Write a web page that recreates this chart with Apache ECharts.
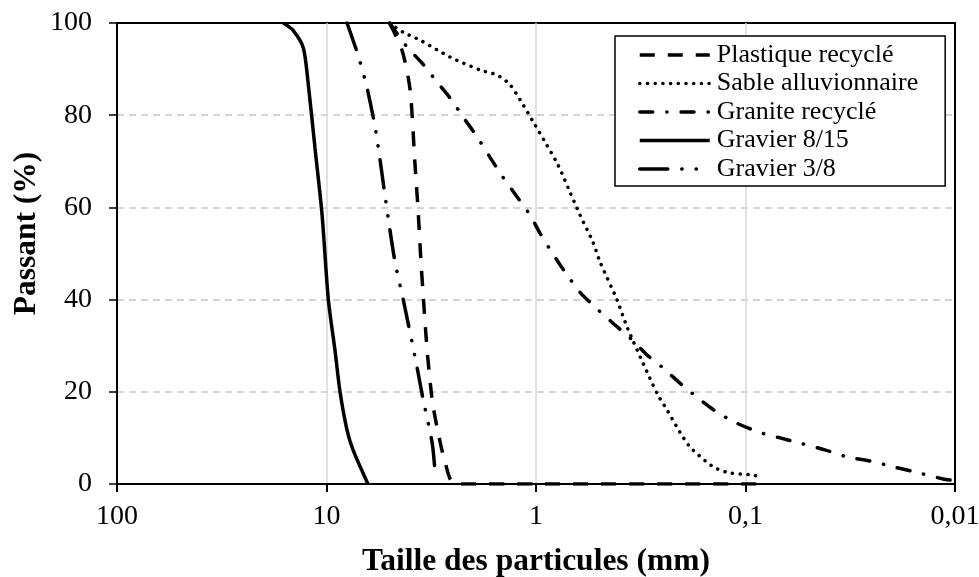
<!DOCTYPE html>
<html>
<head>
<meta charset="utf-8">
<script src="https://cdn.jsdelivr.net/npm/echarts@6/dist/echarts.min.js"></script>
<style>
html,body{margin:0;padding:0;background:#fff;}
#chart{width:979px;height:577px;}
</style>
</head>
<body>
<div id="chart"></div>
<script>
// ---- data (particle size in mm, percent passing) ----
const seriesNames = ['Plastique recyclé', 'Sable alluvionnaire', 'Granite recyclé', 'Gravier 8/15', 'Gravier 3/8'];

const plastiqueSize = [5, 4.36, 3.99, 3.78, 3.66, 3.54, 3.46, 3.31, 3.13, 2.97, 2.72, 2.44, 1, 0.088];
const plastiquePass = [100, 94.1, 85.5, 69.2, 59.9, 48.2, 41.4, 29.1, 18.2, 12.4, 4.8, 0, 0, 0];

const sableSize = [5, 4.31, 3.58, 2.57, 1.85, 1.53, 1.33, 1.15, 1.03, 0.9, 0.785, 0.688, 0.617, 0.535, 0.495, 0.41, 0.368, 0.295, 0.262, 0.237, 0.206, 0.184, 0.161, 0.14, 0.119, 0.095, 0.087];
const sablePass = [100, 98, 96.3, 92.6, 89.8, 88.7, 86.6, 82.2, 78.5, 74, 69.2, 63.3, 58.4, 52.5, 48.2, 39.9, 34.1, 24.3, 19.3, 16.1, 11.3, 8, 5.6, 3.5, 2.4, 2, 1.7];

const graniteSize = [5, 4.13, 3.5, 2.97, 2.57, 2.21, 1.91, 1.66, 1.44, 1.25, 1.07, 0.957, 0.83, 0.727, 0.617, 0.523, 0.434, 0.356, 0.295, 0.248, 0.201, 0.169, 0.137, 0.11, 0.087, 0.0684, 0.0532, 0.0418, 0.0328, 0.0255, 0.0204, 0.0155, 0.0114, 0.01];
const granitePass = [100, 94.8, 91.3, 87.2, 83.7, 79.4, 75.3, 70.9, 66.6, 62.7, 58.4, 54.4, 49.9, 46, 41.6, 38.4, 35.1, 31.7, 28, 25.2, 21.5, 18.7, 15.6, 13.2, 11.3, 10, 8.7, 7.4, 5.9, 5, 3.9, 2.6, 1.1, 0.7];

const gravier815Size = [16.1, 14.5, 12.9, 12.25, 11.35, 10.5, 9.8, 9.11, 8.62, 7.98, 7.47, 6.34];
const gravier815Pass = [100, 98.5, 94.6, 87.2, 72.9, 58.4, 40, 29, 20, 11.7, 7.4, 0];

const gravier38Size = [7.98, 7.07, 6.41, 5.81, 5.14, 4.71, 4.27, 3.70, 3.46, 3.13, 3.05];
const gravier38Pass = [100, 93, 86, 76.4, 59.4, 48.2, 39.3, 25.4, 18.4, 8.9, 4];

const yTicks = [0, 20, 40, 60, 80, 100];
const xTicks = [100, 10, 1, 0.1, 0.01];

function pairs(xs, ys) { return xs.map((x, i) => [x, ys[i]]); }

const FONT = '"Liberation Serif", "Times New Roman", serif';

const styles = [
  { type: [15, 13], cap: 'butt' },
  { type: [0.1, 7.6], cap: 'round' },
  { type: [13, 14, 0.3, 14], cap: 'round' },
  { type: 'solid', cap: 'butt' },
  { type: [28, 14, 0.3, 14, 0.3, 14], cap: 'round' }
];
const dataSets = [
  pairs(plastiqueSize, plastiquePass),
  pairs(sableSize, sablePass),
  pairs(graniteSize, granitePass),
  pairs(gravier815Size, gravier815Pass),
  pairs(gravier38Size, gravier38Pass)
];

const chart = echarts.init(document.getElementById('chart'), null, { renderer: 'canvas' });
chart.setOption({
  animation: false,
  backgroundColor: '#fff',
  textStyle: { fontFamily: FONT },
  grid: { left: 117, right: 24, top: 23, bottom: 93, containLabel: false, outerBoundsMode: 'none',
    show: true, borderColor: '#000', borderWidth: 2, backgroundColor: 'transparent' },
  legend: {
    orient: 'vertical',
    left: 615, top: 36,
    padding: [6, 27, 4, 23],
    itemGap: 2.5,
    itemWidth: 70, itemHeight: 14,
    borderColor: '#000', borderWidth: 1.5, backgroundColor: '#fff',
    itemStyle: { color: 'transparent', borderColor: 'transparent', borderWidth: 0, opacity: 0 },
    textStyle: { fontFamily: FONT, fontSize: 26, color: '#000', lineHeight: 26, padding: [0, 0, 0, 2] },
    data: seriesNames.map((n, i) => ({ name: n, lineStyle: { type: styles[i].type, width: 3.5, color: '#000', cap: styles[i].cap } }))
  },
  xAxis: {
    type: 'log', logBase: 10, min: 0.01, max: 100, inverse: true,
    name: 'Taille des particules (mm)', nameLocation: 'middle', nameGap: 62, nameMoveOverlap: false,
    nameTextStyle: { fontFamily: FONT, fontSize: 31.5, fontWeight: 'bold', color: '#000' },
    axisLine: { lineStyle: { color: '#000', width: 2 } },
    axisTick: { show: true, length: 8, lineStyle: { color: '#000', width: 2 } },
    minorTick: { show: false },
    axisLabel: { fontFamily: FONT, fontSize: 28, color: '#000', margin: 19,
      formatter: v => String(+(+v).toPrecision(6)).replace('.', ',') },
    splitLine: { show: true, showMinLine: false, showMaxLine: false, lineStyle: { color: '#d9d9d9', width: 1.5, type: 'solid' } }
  },
  yAxis: {
    type: 'value', min: 0, max: 100, interval: 20,
    name: 'Passant (%)', nameLocation: 'middle', nameGap: 74, nameMoveOverlap: false,
    nameTextStyle: { fontFamily: FONT, fontSize: 31.5, fontWeight: 'bold', color: '#000', padding: [0, 0, 0, 40] },
    axisLine: { show: true, lineStyle: { color: '#000', width: 2 } },
    axisTick: { show: true, length: 8, lineStyle: { color: '#000', width: 1.5 } },
    axisLabel: { fontFamily: FONT, fontSize: 28, color: '#000', margin: 25 },
    splitLine: { show: true, showMinLine: false, showMaxLine: false, lineStyle: { color: '#c8c8c8', width: 1.5, type: [7, 5] } }
  },
  series: seriesNames.map((n, i) => ({
    name: n, type: 'line', data: dataSets[i],
    showSymbol: false, symbol: 'none', smooth: 0.25,
    lineStyle: { color: '#000', width: 3.5, type: styles[i].type, cap: styles[i].cap },
    itemStyle: { color: '#000' },
    z: 3
  }))
});
</script>
</body>
</html>
